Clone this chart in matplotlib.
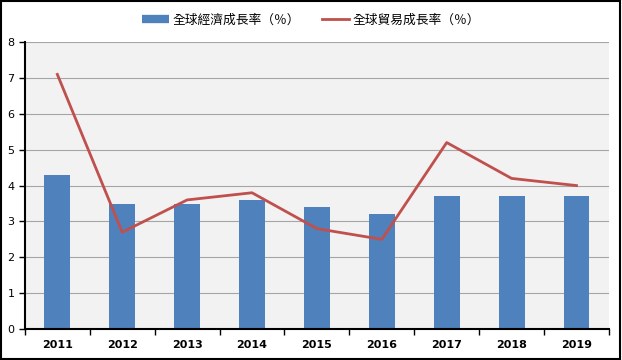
import matplotlib
matplotlib.use("Agg")
import matplotlib.pyplot as plt
import numpy as np
from matplotlib.patches import Rectangle
from matplotlib.lines import Line2D

plt.rcParams['font.family'] = ['Noto Sans CJK TC', 'DejaVu Sans']

years = ['2011', '2012', '2013', '2014', '2015', '2016', '2017', '2018', '2019']
econ = [4.3, 3.5, 3.5, 3.6, 3.4, 3.2, 3.7, 3.7, 3.7]
trade = [7.1, 2.7, 3.6, 3.8, 2.8, 2.5, 5.2, 4.2, 4.0]
econ_label = '全球經濟成長率（％）'
trade_label = '全球貿易成長率（％）'

bar_color = '#4f81bd'
line_color = '#c0504d'

fig = plt.figure(figsize=(6.22, 3.6), dpi=100)
ax = fig.add_axes([0.040, 0.086, 0.939, 0.797])
ax.set_facecolor('#f2f2f2')
x = np.arange(len(years))
ax.bar(x, econ, width=0.4, color=bar_color, zorder=2)
ax.plot(x, trade, color=line_color, lw=2, zorder=3)
ax.set_xlim(-0.5, len(years) - 0.5)
ax.set_ylim(0, 8)
ax.set_yticks(range(0, 9))
ax.yaxis.grid(True, color='#a6a6a6', lw=0.8, zorder=0)
ax.set_axisbelow(True)
ax.set_xticks(x)
ax.set_xticklabels(years, fontsize=8, fontweight='bold', family=['DejaVu Sans'])
ax.set_xticks(np.arange(-0.5, len(years)), minor=True)
ax.tick_params(axis='x', which='major', length=0, pad=8)
ax.tick_params(axis='x', which='minor', length=4, width=1, direction='out')
ax.tick_params(axis='y', length=4, labelsize=8, direction='out', width=1)
for s in ['top', 'right']:
    ax.spines[s].set_visible(False)
ax.spines['left'].set_linewidth(1.5)
ax.spines['bottom'].set_linewidth(1.5)
for lab in ax.get_yticklabels():
    lab.set_family(['DejaVu Sans'])

handles = [Line2D([], [], color=bar_color, lw=6, solid_capstyle='butt'),
           Line2D([], [], color=line_color, lw=2)]
fig.legend(handles, [econ_label, trade_label], loc='upper center',
           bbox_to_anchor=(0.5, 0.995), ncol=2, frameon=False,
           fontsize=9.2, handlelength=2.1, handletextpad=0.3, columnspacing=1.7)
fig.patches.append(Rectangle((0.002, 0.003), 0.995, 0.993, transform=fig.transFigure,
                             fill=False, edgecolor='black', lw=1.5))
fig.savefig('out.png', dpi=100)
